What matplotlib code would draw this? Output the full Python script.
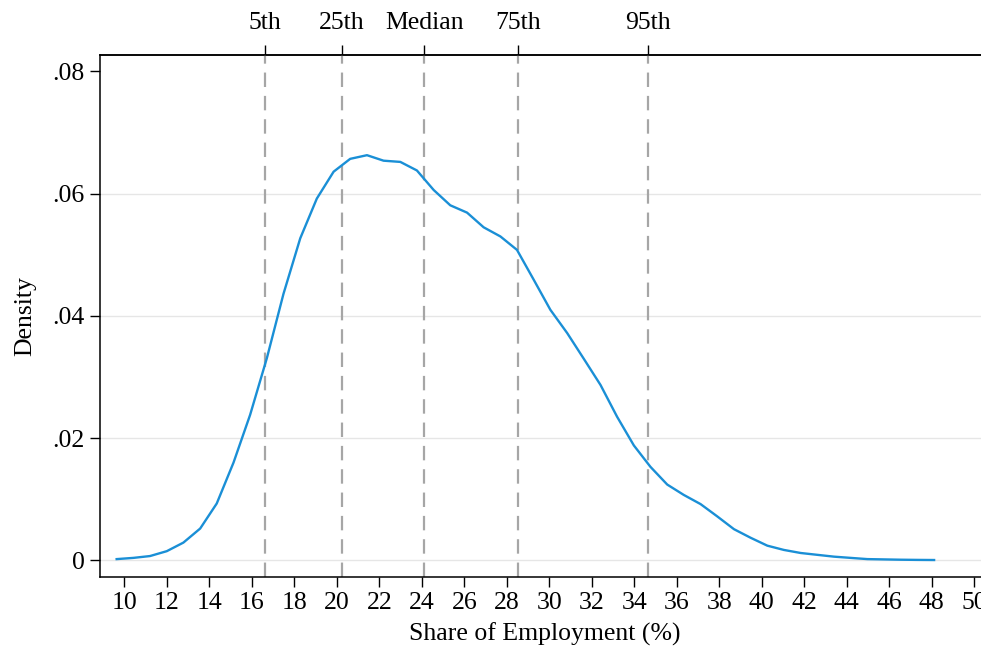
import matplotlib
matplotlib.use("Agg")
import matplotlib.pyplot as plt

# kernel density estimate
share = [9.64, 10.43, 11.21, 12.00, 12.78, 13.57, 14.35, 15.14, 15.92, 16.71,
         17.49, 18.28, 19.06, 19.85, 20.63, 21.42, 22.20, 22.99, 23.77, 24.56,
         25.34, 26.13, 26.91, 27.70, 28.48, 29.27, 30.05, 30.84, 31.62, 32.41,
         33.19, 33.98, 34.76, 35.55, 36.33, 37.12, 37.90, 38.69, 39.47, 40.26,
         41.04, 41.83, 42.61, 43.40, 44.18, 44.97, 45.75, 46.54, 47.32, 48.11]
density = [0.0002, 0.0004, 0.0007, 0.0015, 0.0029, 0.0052, 0.0093, 0.0160, 0.0238, 0.0331,
           0.0436, 0.0527, 0.0592, 0.0636, 0.0657, 0.0663, 0.0654, 0.0652, 0.0638, 0.0606,
           0.0581, 0.0569, 0.0545, 0.0530, 0.0508, 0.0459, 0.0410, 0.0372, 0.0330, 0.0287,
           0.0235, 0.0188, 0.0153, 0.0124, 0.0107, 0.0092, 0.0072, 0.0051, 0.0037, 0.0024,
           0.0017, 0.0012, 0.0009, 0.0006, 0.0004, 0.0002, 0.00015, 0.0001, 0.00007, 0.00005]

pct_labels = ["5th", "25th", "Median", "75th", "95th"]
pct_values = [16.62, 20.23, 24.12, 28.51, 34.64]

x_ticks = list(range(10, 52, 2))
y_ticks = [0, 0.02, 0.04, 0.06, 0.08]
y_ticklabels = ["0", ".02", ".04", ".06", ".08"]
grid_vals = [0, 0.02, 0.04, 0.06]

plt.rcParams["font.family"] = ["Liberation Serif", "DejaVu Serif"]
plt.rcParams["font.size"] = 18.5

fig = plt.figure(figsize=(9.81, 6.49), dpi=100)
ax = fig.add_axes([100 / 981, 0.1114, 890 / 981, 0.8039])

for g in grid_vals:
    ax.axhline(g, color="#e6e6e6", lw=1.0, zorder=0)

for v in pct_values:
    ax.axvline(v, color="#a6a6a6", lw=1.6, dashes=(6.5, 4), zorder=1)

ax.plot(share, density, color="#1a8fd6", lw=1.7, zorder=2)

ax.set_xlim(8.856, 50.74)
ax.set_ylim(-0.00268, 0.0827)
ax.set_xticks(x_ticks)
ax.set_yticks(y_ticks)
ax.set_yticklabels(y_ticklabels)
ax.tick_params(length=7, width=1.0, color="black", pad=4)
for s in ["left", "bottom", "top"]:
    ax.spines[s].set_linewidth(1.1)
ax.spines["right"].set_visible(False)

ax.set_xlabel("Share of Employment (%)", labelpad=6)
ax.set_ylabel("Density", labelpad=12)

top = ax.secondary_xaxis("top")
top.set_xticks(pct_values)
top.set_xticklabels(pct_labels)
top.tick_params(length=7, width=1.0, pad=8)
top.spines["top"].set_linewidth(1.1)

fig.savefig("out.png", dpi=100)
